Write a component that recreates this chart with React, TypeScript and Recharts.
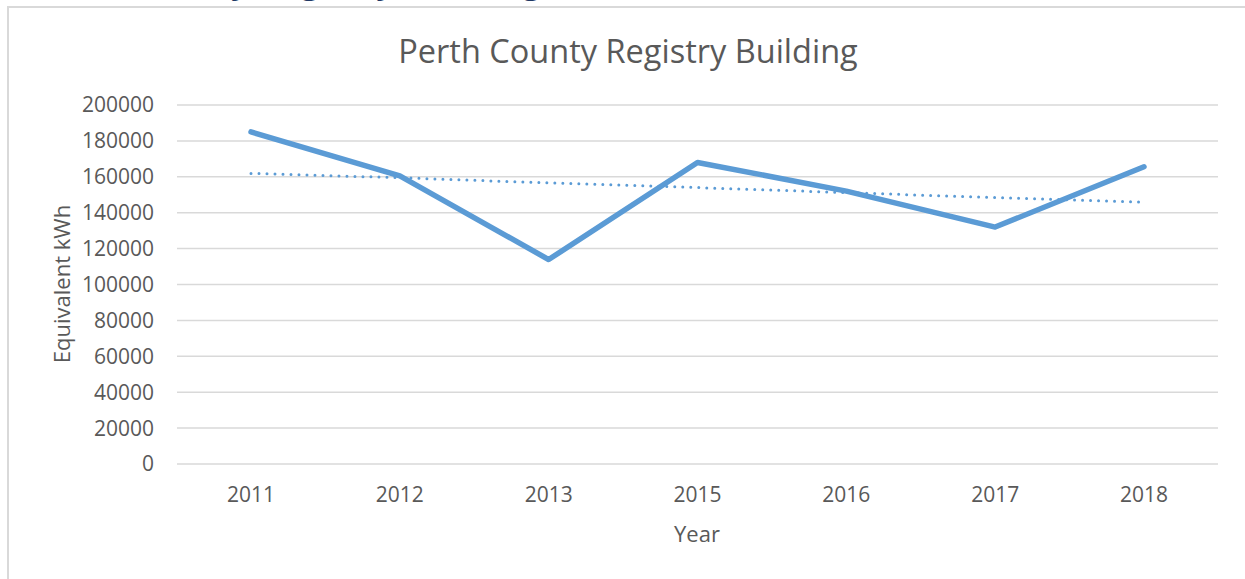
import { LineChart, Line, XAxis, YAxis, CartesianGrid } from "recharts";

const years = ["2011", "2012", "2013", "2015", "2016", "2017", "2018"];
const energyKwh = [185000, 160500, 113900, 168000, 152000, 132000, 165600];
// linear trendline as drawn (dotted)
const trendKwh = [161900, 159500, 156600, 154000, 151200, 148400, 145800];
const yTicks = [0, 20000, 40000, 60000, 80000, 100000, 120000, 140000, 160000, 180000, 200000];

const data = years.map((year, i) => ({ year, energy: energyKwh[i], trend: trendKwh[i] }));

const FONT = "'Open Sans', sans-serif";
const GREY = "#595959";
const BLUE = "#5B9BD5";

export default function App() {
  return (
    <div
      style={{
        position: "fixed",
        left: 0,
        top: 0,
        width: 1245,
        height: 579,
        overflow: "hidden",
        background: "#fff",
        fontFamily: FONT,
      }}
    >
      {/* section heading above the chart, cut off by the page edge */}
      <svg style={{ position: "absolute", left: 0, top: 0 }} width={1245} height={10}>
        <text x={29} y={-7} fontFamily={FONT} fontWeight={700} fontSize={33.5} fill="#1F3864">
          Perth County Registry Building
        </text>
      </svg>

      <div
        style={{
          position: "absolute",
          left: 7,
          top: 6,
          width: 1400,
          height: 800,
          border: "2px solid #D9D9D9",
        }}
      />

      <div
        style={{
          position: "absolute",
          left: 0,
          top: 28,
          width: 1256,
          textAlign: "center",
          fontSize: 32.5,
          color: GREY,
          lineHeight: "46px",
        }}
      >
        Perth County Registry Building
      </div>

      <div
        style={{
          position: "absolute",
          left: 61 - 100,
          top: 284 - 15,
          width: 200,
          height: 30,
          lineHeight: "30px",
          textAlign: "center",
          fontSize: 22,
          color: GREY,
          transform: "rotate(-90deg)",
        }}
      >
        Equivalent kWh
      </div>

      <div
        style={{
          position: "absolute",
          left: 697 - 100,
          top: 533 - 15,
          width: 200,
          height: 30,
          lineHeight: "30px",
          textAlign: "center",
          fontSize: 22,
          color: GREY,
        }}
      >
        Year
      </div>

      <div style={{ position: "absolute", left: 0, top: 0 }}>
        <LineChart
          width={1245}
          height={579}
          data={data}
          margin={{ top: 105, right: 27, bottom: 0, left: 0 }}
        >
          <CartesianGrid horizontal vertical={false} stroke="#D9D9D9" strokeWidth={1.5} />
          <XAxis
            dataKey="year"
            axisLine={false}
            tickLine={false}
            tickSize={0}
            tickMargin={23}
            height={115}
            padding={{ left: 74, right: 74 }}
            tick={{ fill: GREY, fontSize: 21, fontFamily: FONT }}
            interval={0}
          />
          <YAxis
            domain={[0, 200000]}
            ticks={yTicks}
            axisLine={false}
            tickLine={false}
            tickSize={0}
            tickMargin={23}
            width={177}
            tick={{ fill: GREY, fontSize: 21, fontFamily: FONT }}
          />
          <Line
            dataKey="trend"
            stroke={BLUE}
            strokeWidth={3}
            strokeDasharray="0 8"
            strokeLinecap="round"
            dot={false}
            activeDot={false}
            isAnimationActive={false}
          />
          <Line
            dataKey="energy"
            type="linear"
            stroke={BLUE}
            strokeWidth={5.5}
            strokeLinecap="round"
            strokeLinejoin="round"
            dot={false}
            activeDot={false}
            isAnimationActive={false}
          />
        </LineChart>
      </div>
    </div>
  );
}
